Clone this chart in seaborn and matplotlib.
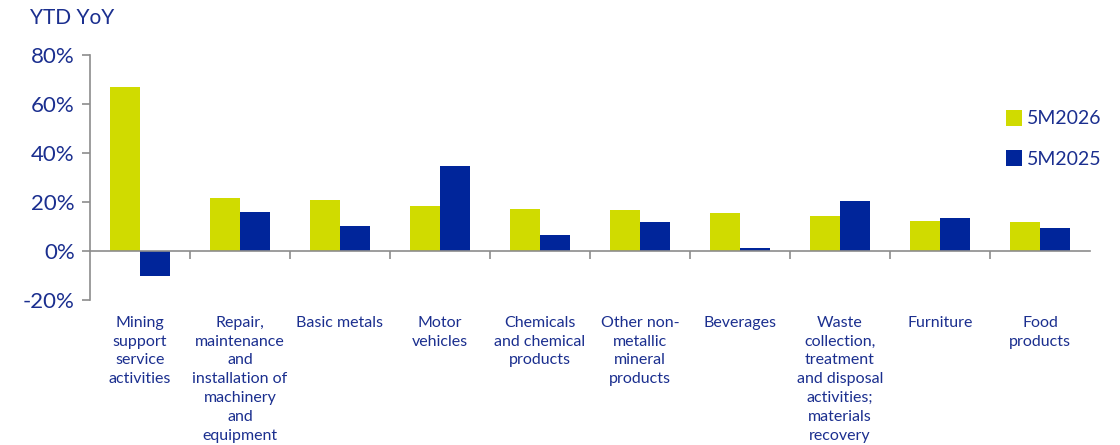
import matplotlib
matplotlib.use("Agg")
import numpy as np
import pandas as pd
import matplotlib.pyplot as plt
import seaborn as sns
from matplotlib.ticker import FuncFormatter, FixedLocator
from matplotlib.lines import Line2D

categories = [
    "Mining\nsupport\nservice\nactivities",
    "Repair,\nmaintenance\nand\ninstallation of\nmachinery\nand\nequipment",
    "Basic metals",
    "Motor\nvehicles",
    "Chemicals\nand chemical\nproducts",
    "Other non-\nmetallic\nmineral\nproducts",
    "Beverages",
    "Waste\ncollection,\ntreatment\nand disposal\nactivities;\nmaterials\nrecovery",
    "Furniture",
    "Food\nproducts",
]
series_names = ["5M2026", "5M2025"]
values_2026 = [66.9, 21.6, 20.8, 18.4, 17.1, 16.7, 15.5, 14.3, 12.2, 11.8]
values_2025 = [-10.2, 15.9, 10.2, 34.7, 6.5, 11.8, 1.2, 20.4, 13.5, 9.4]
y_ticks = [-20, 0, 20, 40, 60, 80]

GREEN = "#D0DB00"
BLUE = "#00259A"
TEXT = "#1B2F8F"
AXIS = "#8C8C8C"

df = pd.DataFrame({
    "Category": categories * 2,
    "Series": [series_names[0]] * len(categories) + [series_names[1]] * len(categories),
    "Value": values_2026 + values_2025,
})

sns.set_theme(style="white")
plt.rcParams["font.family"] = ["Lato", "DejaVu Sans"]

fig = plt.figure(figsize=(11.2, 4.45), dpi=100)
ax = fig.add_axes([90 / 1120, 1 - 300 / 445, 1000 / 1120, 245 / 445])

sns.barplot(data=df, x="Category", y="Value", hue="Series", order=categories,
            hue_order=series_names, palette=[GREEN, BLUE], width=0.6,
            saturation=1, linewidth=0, ax=ax, legend=False)

ax.set_xlim(-0.5, len(categories) - 0.5)
ax.set_ylim(-20, 80)
ax.set_xlabel("")
ax.set_ylabel("")

# spines: left axis grey, x axis drawn at zero
for s in ["top", "right"]:
    ax.spines[s].set_visible(False)
ax.spines["left"].set_color(AXIS)
ax.spines["left"].set_linewidth(1.2)
ax.spines["bottom"].set_position(("data", 0))
ax.spines["bottom"].set_color(AXIS)
ax.spines["bottom"].set_linewidth(1.2)

ax.yaxis.set_major_locator(FixedLocator(y_ticks))
ax.yaxis.set_major_formatter(FuncFormatter(lambda v, p: f"{v:.0f}%"))
ax.tick_params(axis="y", which="major", left=True, length=6, width=1.2, color=AXIS,
               labelsize=16, labelcolor=TEXT, pad=5)

ax.xaxis.set_minor_locator(FixedLocator(np.arange(0.5, len(categories) - 0.5, 1)))
ax.tick_params(axis="x", which="minor", bottom=True, length=6, width=1.2, color=AXIS,
               direction="out")
ax.tick_params(axis="x", which="major", bottom=False, length=0, pad=46.5,
               labelsize=11.5, labelcolor=TEXT)
for lbl in ax.get_xticklabels():
    lbl.set_verticalalignment("top")
    lbl.set_linespacing(1.45)

fig.text(30 / 1120, 1 - 18 / 445, "YTD YoY", fontsize=15, color=TEXT,
         ha="left", va="center")

handles = [Line2D([], [], marker="s", linestyle="", markersize=11,
                  markerfacecolor=c, markeredgewidth=0) for c in (GREEN, BLUE)]
leg = fig.legend(handles, series_names, loc="center left",
                 bbox_to_anchor=(988 / 1120, 1 - 139 / 445), frameon=False,
                 fontsize=14, labelspacing=1.2, handletextpad=0.2,
                 handlelength=0.9)
for t in leg.get_texts():
    t.set_color(TEXT)

fig.savefig("out.png", dpi=100)
